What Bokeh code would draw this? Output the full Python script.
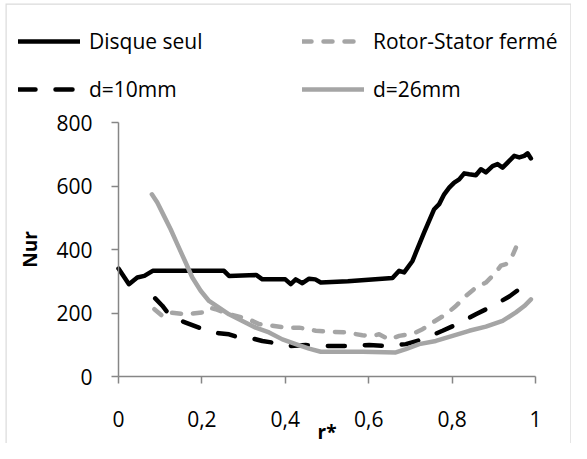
from bokeh.plotting import figure
from bokeh.models import (Range1d, FixedTicker, CustomJSTickFormatter, Legend, LegendItem,
                          LinearAxis, BoxAnnotation, Spacer)
from bokeh.layouts import row, column
from bokeh.embed import file_html
from bokeh.resources import INLINE

# ---- data ----
disque_x = [0.00, 0.025, 0.045, 0.062, 0.082, 0.15, 0.253, 0.265, 0.33, 0.345, 0.40, 0.413, 0.425, 0.441,
            0.457, 0.472, 0.485, 0.55, 0.657, 0.673, 0.685, 0.705, 0.713, 0.733, 0.757, 0.769, 0.781,
            0.793, 0.805, 0.817, 0.829, 0.841, 0.857, 0.869, 0.881, 0.897, 0.909, 0.921, 0.937, 0.949,
            0.961, 0.973, 0.981, 0.989]
disque_y = [340, 291, 312, 317, 333, 333, 333, 317, 320, 306, 306, 291, 306, 294,
            308, 306, 296, 300, 310, 333, 328, 364, 390, 454, 527, 543, 574,
            595, 611, 621, 640, 637, 634, 653, 643, 663, 669, 658, 679, 695,
            690, 695, 703, 687]

rs_x = [0.086, 0.105, 0.121, 0.161, 0.201, 0.217, 0.233, 0.265, 0.297, 0.313, 0.337, 0.369, 0.401,
        0.433, 0.457, 0.473, 0.505, 0.545, 0.585, 0.609, 0.625, 0.649, 0.673, 0.697, 0.713, 0.729,
        0.753, 0.785, 0.809, 0.833, 0.857, 0.881, 0.901, 0.917, 0.929, 0.941, 0.953]
rs_y = [212, 191, 202, 196, 202, 217, 212, 196, 186, 180, 165, 160, 154,
        154, 149, 144, 141, 139, 130, 128, 133, 117, 128, 133, 139, 149,
        170, 196, 222, 254, 280, 296, 322, 349, 354, 370, 406]

d10_x = [0.088, 0.105, 0.121, 0.141, 0.161, 0.193, 0.217, 0.241, 0.265, 0.281, 0.321, 0.345, 0.369,
         0.409, 0.449, 0.505, 0.545, 0.601, 0.641, 0.689, 0.729, 0.777, 0.817, 0.857, 0.897, 0.937, 0.974]
d10_y = [246, 223, 196, 180, 170, 154, 144, 136, 133, 126, 120, 112, 107,
         96, 99, 96, 96, 99, 96, 102, 117, 144, 168, 196, 222, 252, 288]

d26_x = [0.080, 0.093, 0.109, 0.125, 0.141, 0.161, 0.177, 0.197, 0.217, 0.241, 0.265, 0.297, 0.329,
         0.361, 0.393, 0.425, 0.457, 0.485, 0.505, 0.585, 0.665, 0.689, 0.721, 0.761, 0.801, 0.841,
         0.881, 0.921, 0.953, 0.973, 0.989]
d26_y = [574, 548, 506, 464, 417, 359, 312, 270, 238, 217, 196, 175, 154,
         139, 117, 102, 88, 78, 78, 78, 76, 86, 102, 112, 128, 144,
         157, 175, 202, 222, 243]

x_ticks = [0, 0.2, 0.4, 0.6, 0.8, 1]
y_ticks = [0, 200, 400, 600, 800]
labels = ["Disque seul", "Rotor-Stator fermé", "d=10mm", "d=26mm"]

GRAY = "#a5a5a5"
AXIS = "#868686"
FONT = "Open Sans"

# The frame fills the whole canvas (the chart box); the data area sits
# inside it through the ranges, and the axes are fixed at 0.
p = figure(width=566, height=440, output_backend="svg", toolbar_location=None,
           x_axis_location=None, y_axis_location=None,
           x_range=Range1d(-0.271, 1.0863), y_range=Range1d(-211, 1175),
           min_border=0)
p.xgrid.visible = False
p.ygrid.visible = False
p.outline_line_color = None
p.background_fill_color = "white"
p.border_fill_color = "white"

# chart border: left, top and right edges of the frame; bottom edge out of view
p.add_layout(BoxAnnotation(bottom=-5000, fill_alpha=0, line_color=AXIS, line_width=2.4))

r1 = p.line(disque_x, disque_y, line_color="black", line_width=4.5, line_cap="round", line_join="round")
r2 = p.line(rs_x, rs_y, line_color=GRAY, line_width=4.5, line_dash="9 12", line_cap="round", line_join="round")
r3 = p.line(d10_x, d10_y, line_color="black", line_width=4.5, line_dash="17 20", line_cap="round", line_join="round")
r4 = p.line(d26_x, d26_y, line_color=GRAY, line_width=4.5, line_cap="round", line_join="round")

xaxis = LinearAxis(fixed_location=0, bounds=(0, 1))
yaxis = LinearAxis(fixed_location=0, bounds=(0, 800))
p.add_layout(xaxis, "below")
p.add_layout(yaxis, "left")

for ax in (xaxis, yaxis):
    ax.axis_line_color = AXIS
    ax.axis_line_width = 1.5
    ax.major_tick_line_color = AXIS
    ax.major_tick_line_width = 1.5
    ax.major_tick_out = 7
    ax.major_tick_in = 0
    ax.minor_tick_line_color = None
    ax.major_label_text_font = FONT
    ax.major_label_text_font_size = "21px"
    ax.major_label_text_color = "black"
    ax.axis_label_text_font = FONT
    ax.axis_label_text_font_style = "bold"
    ax.axis_label_text_font_size = "19px"
    ax.axis_label_text_color = "black"

xaxis.ticker = FixedTicker(ticks=x_ticks)
yaxis.ticker = FixedTicker(ticks=y_ticks)
xaxis.formatter = CustomJSTickFormatter(code="return (Math.round(tick*10)/10).toString().replace('.', ',');")
xaxis.major_label_standoff = 27
yaxis.major_label_standoff = 19
xaxis.axis_label = "r*"
xaxis.axis_label_standoff = -11
yaxis.axis_label = "Nur"
yaxis.axis_label_standoff = 10

renders = [r1, r2, r3, r4]
locs = [(13, 387), (297, 387), (13, 339), (297, 339)]
for lab, r, loc in zip(labels, renders, locs):
    lg = Legend(items=[LegendItem(label=lab, renderers=[r])], location=loc,
                glyph_width=62, glyph_height=30, label_height=30, label_standoff=9,
                label_text_font=FONT, label_text_font_size="21px", label_text_color="black",
                padding=0, margin=0, spacing=0, border_line_color=None, background_fill_alpha=0)
    p.add_layout(lg, "center")

layout = column(Spacer(width=571, height=3), row(Spacer(width=5, height=440), p, spacing=0), spacing=0)
open("out.html", "w").write(file_html(layout, INLINE))
